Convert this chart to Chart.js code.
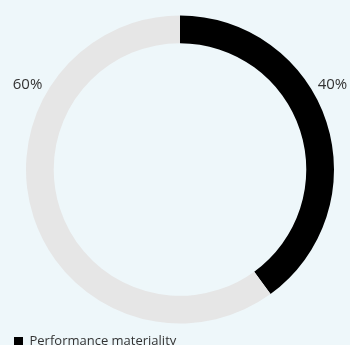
<!DOCTYPE html>
<html>
<head>
<meta charset="utf-8">
<script src="https://cdn.jsdelivr.net/npm/chart.js@4"></script>
<style>
  html, body { margin: 0; padding: 0; background: #eef7fa; overflow: hidden; }
  #wrap { position: relative; width: 360px; height: 358px; }
</style>
</head>
<body>
<div id="wrap"><canvas id="chart"></canvas></div>
<script>
const labels = ["Performance materiality", "Remaining"];
const values = [40, 60];
const colors = ["#000000", "#e6e6e6"];

// percentage labels outside the ring, top left / top right
const outsideLabels = {
  id: "outsideLabels",
  afterDatasetsDraw(chart) {
    const ctx = chart.ctx;
    const arc = chart.getDatasetMeta(0).data[0];
    const r = arc.outerRadius;
    ctx.save();
    ctx.font = "15px 'Open Sans'";
    ctx.fillStyle = "#333";
    ctx.textAlign = "center";
    ctx.textBaseline = "middle";
    ctx.fillText(values[0] + "%", arc.x + r * 0.99, arc.y - r * 0.55);
    ctx.fillText(values[1] + "%", arc.x - r * 0.99, arc.y - r * 0.55);
    ctx.restore();
  }
};

new Chart(document.getElementById("chart"), {
  type: "doughnut",
  data: {
    labels: labels,
    datasets: [{
      data: values,
      backgroundColor: colors,
      borderWidth: 0
    }]
  },
  options: {
    responsive: true,
    maintainAspectRatio: false,
    animation: false,
    radius: 154,
    cutout: "82%",
    layout: { padding: { left: 8, right: 8, top: 10, bottom: 0 } },
    plugins: {
      tooltip: { enabled: false },
      legend: {
        position: "bottom",
        align: "start",
        labels: {
          filter: item => item.index === 0,
          boxWidth: 9,
          boxHeight: 9,
          padding: 6,
          color: "#333",
          font: { family: "Open Sans", size: 13 }
        }
      }
    }
  },
  plugins: [outsideLabels]
});
</script>
</body>
</html>
